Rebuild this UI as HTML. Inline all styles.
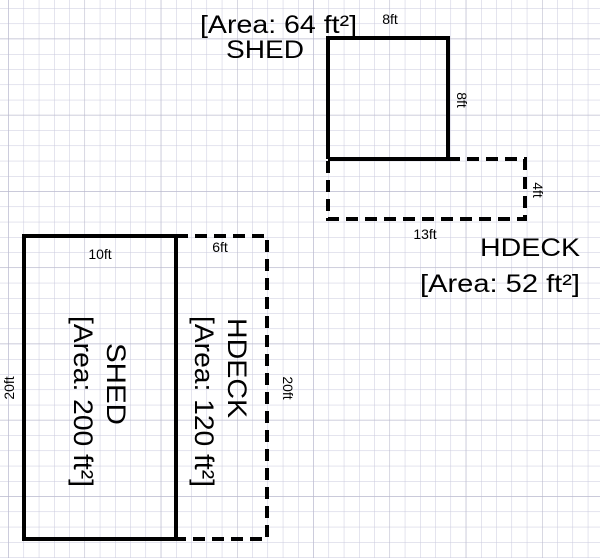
<!DOCTYPE html>
<html><head><style>html,body{margin:0;padding:0;background:#fff}svg{display:block}</style></head>
<body>
<svg width="600" height="558" xmlns="http://www.w3.org/2000/svg" font-family="Liberation Sans, sans-serif">
<defs>
<pattern id="g" x="8.3" y="8.3" width="15.25" height="15.25" patternUnits="userSpaceOnUse">
<path d="M0 0H15.25M0 0V15.25" stroke="#c9c9dd" stroke-width="1" fill="none"/>
</pattern>
<pattern id="G" x="84.5" y="114.8" width="76.25" height="76.25" patternUnits="userSpaceOnUse">
<path d="M0 0H76.25M0 0V76.25" stroke="#b5b5c9" stroke-width="1" fill="none"/>
</pattern>
</defs>
<rect width="600" height="558" fill="url(#g)"/>
<rect width="600" height="558" fill="url(#G)"/>
<g fill="none" stroke="#000" stroke-width="4">
<path d="M328 159V38H448V159"/>
<path d="M328 159H448"/>
<path d="M448 159H525V219H328V159" stroke-dasharray="12 7"/>
<rect x="24" y="236" width="152" height="303"/>
<path d="M176 236H267V539H176" stroke-dasharray="12 7"/>
</g>
<g fill="#000">
<text x="200" y="33" font-size="25" textLength="157" lengthAdjust="spacingAndGlyphs">[Area: 64 ft²]</text>
<text x="226" y="58" font-size="25" textLength="78" lengthAdjust="spacingAndGlyphs">SHED</text>
<text x="390" y="24" font-size="14" text-anchor="middle">8ft</text>
<text transform="translate(457,100) rotate(90)" font-size="14" text-anchor="middle">8ft</text>
<text transform="translate(533,190) rotate(90)" font-size="14" text-anchor="middle">4ft</text>
<text x="425" y="239" font-size="14" text-anchor="middle">13ft</text>
<text x="480" y="256" font-size="25" textLength="100" lengthAdjust="spacingAndGlyphs">HDECK</text>
<text x="420" y="292" font-size="25" textLength="160" lengthAdjust="spacingAndGlyphs">[Area: 52 ft²]</text>
<text x="100" y="259" font-size="14" text-anchor="middle">10ft</text>
<text x="220" y="252" font-size="14" text-anchor="middle">6ft</text>
<text transform="translate(14,388) rotate(-90)" font-size="14" text-anchor="middle">20ft</text>
<text transform="translate(283,388) rotate(90)" font-size="14" text-anchor="middle">20ft</text>
<g transform="translate(100,401) rotate(90)" font-size="27">
<text x="-58" y="-7" textLength="82" lengthAdjust="spacingAndGlyphs">SHED</text>
<text x="-85" y="26" textLength="171" lengthAdjust="spacingAndGlyphs">[Area: 200 ft²]</text>
</g>
<g transform="translate(221,401) rotate(90)" font-size="27">
<text x="-83" y="-7" textLength="100" lengthAdjust="spacingAndGlyphs">HDECK</text>
<text x="-85" y="26" textLength="171" lengthAdjust="spacingAndGlyphs">[Area: 120 ft²]</text>
</g>
</g>
</svg>
</body></html>
